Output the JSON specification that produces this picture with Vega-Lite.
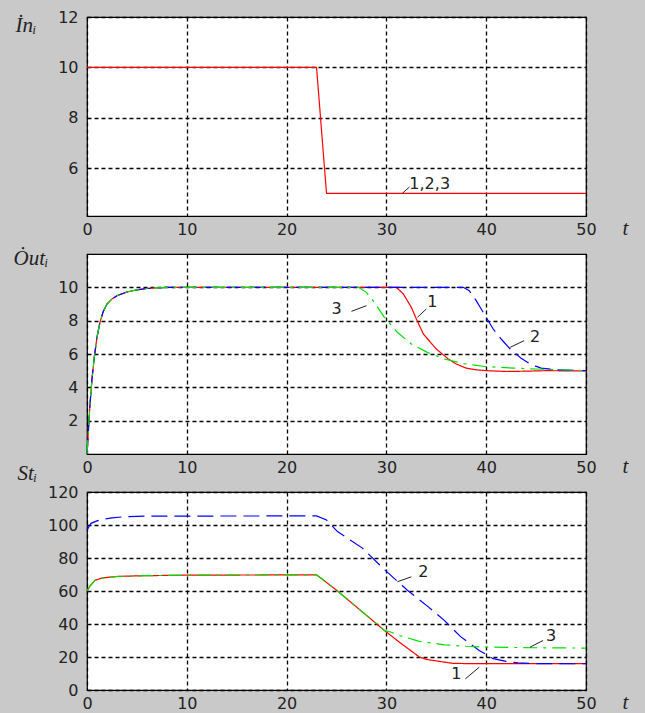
{
  "$schema": "https://vega.github.io/schema/vega-lite/v6.json",
  "background": "#c9c9c9",
  "padding": {"left": 12, "top": 8, "right": 20, "bottom": 0},
  "spacing": 38,
  "bounds": "flush",
  "config": {
    "view": {"fill": "white", "stroke": "black", "strokeWidth": 1.2},
    "axis": {
      "grid": true, "gridColor": "black", "gridDash": [4, 3], "gridWidth": 1.3, "gridOpacity": 1,
      "ticks": false, "domain": false, "labelOverlap": false,
      "labelFont": "DejaVu Sans", "labelFontSize": 16, "labelColor": "#222222",
      "titleFont": "Liberation Serif", "titleFontStyle": "italic", "titleFontWeight": "normal", "titleFontSize": 21, "titleColor": "#222222",
      "titleAngle": 0
    },
    "axisX": {"labelPadding": 5, "titleX": 538, "titleY": 12, "titleAlign": "center", "titleBaseline": "middle", "labelFlush": false},
    "axisY": {"labelPadding": 9, "titleAlign": "left", "titleBaseline": "alphabetic", "labelFlush": false},
    "text": {"font": "DejaVu Sans", "fontSize": 16, "color": "#222222"},
    "rule": {"color": "#222222", "strokeWidth": 1}
  },
  "datasets": {
    "inp": [
      {"t": 0, "v": 10}, {"t": 23, "v": 10}, {"t": 23.1, "v": 9.5}, {"t": 23.3, "v": 8.5},
      {"t": 23.5, "v": 7.5}, {"t": 23.7, "v": 6.5}, {"t": 23.9, "v": 5.5}, {"t": 24, "v": 5}, {"t": 50, "v": 5}
    ],
    "out": [
      {"s": "1", "t": 0, "v": 0}, {"s": "1", "t": 0.15, "v": 1.5}, {"s": "1", "t": 0.3, "v": 3}, {"s": "1", "t": 0.5, "v": 4.5},
      {"s": "1", "t": 0.75, "v": 5.9}, {"s": "1", "t": 1, "v": 7}, {"s": "1", "t": 1.3, "v": 7.9}, {"s": "1", "t": 1.6, "v": 8.5},
      {"s": "1", "t": 2, "v": 9}, {"s": "1", "t": 2.5, "v": 9.3}, {"s": "1", "t": 3, "v": 9.5}, {"s": "1", "t": 4, "v": 9.72},
      {"s": "1", "t": 5, "v": 9.85}, {"s": "1", "t": 6, "v": 9.93}, {"s": "1", "t": 7, "v": 9.97}, {"s": "1", "t": 8, "v": 10},
      {"s": "1", "t": 31, "v": 10}, {"s": "1", "t": 31.7, "v": 9.6}, {"s": "1", "t": 32.5, "v": 8.8}, {"s": "1", "t": 33, "v": 8.1},
      {"s": "1", "t": 33.7, "v": 7.2}, {"s": "1", "t": 35, "v": 6.3}, {"s": "1", "t": 36.2, "v": 5.7}, {"s": "1", "t": 37, "v": 5.4},
      {"s": "1", "t": 38, "v": 5.15}, {"s": "1", "t": 39, "v": 5.05}, {"s": "1", "t": 40, "v": 5.0}, {"s": "1", "t": 42, "v": 4.95},
      {"s": "1", "t": 44, "v": 4.97}, {"s": "1", "t": 46, "v": 5.0}, {"s": "1", "t": 50, "v": 4.98},
      {"s": "2", "t": 0, "v": 0}, {"s": "2", "t": 0.15, "v": 1.5}, {"s": "2", "t": 0.3, "v": 3}, {"s": "2", "t": 0.5, "v": 4.5},
      {"s": "2", "t": 0.75, "v": 5.9}, {"s": "2", "t": 1, "v": 7}, {"s": "2", "t": 1.3, "v": 7.9}, {"s": "2", "t": 1.6, "v": 8.5},
      {"s": "2", "t": 2, "v": 9}, {"s": "2", "t": 2.5, "v": 9.3}, {"s": "2", "t": 3, "v": 9.5}, {"s": "2", "t": 4, "v": 9.72},
      {"s": "2", "t": 5, "v": 9.85}, {"s": "2", "t": 6, "v": 9.93}, {"s": "2", "t": 7, "v": 9.97}, {"s": "2", "t": 8, "v": 10},
      {"s": "2", "t": 37.7, "v": 10}, {"s": "2", "t": 38.3, "v": 9.8}, {"s": "2", "t": 39, "v": 9.2}, {"s": "2", "t": 39.5, "v": 8.7},
      {"s": "2", "t": 40, "v": 8.2}, {"s": "2", "t": 40.7, "v": 7.5}, {"s": "2", "t": 41.5, "v": 6.9}, {"s": "2", "t": 42.4, "v": 6.3},
      {"s": "2", "t": 43.5, "v": 5.75}, {"s": "2", "t": 44.4, "v": 5.4}, {"s": "2", "t": 45.5, "v": 5.15}, {"s": "2", "t": 47, "v": 5.05},
      {"s": "2", "t": 50, "v": 5.0},
      {"s": "3", "t": 0, "v": 0}, {"s": "3", "t": 0.15, "v": 1.5}, {"s": "3", "t": 0.3, "v": 3}, {"s": "3", "t": 0.5, "v": 4.5},
      {"s": "3", "t": 0.75, "v": 5.9}, {"s": "3", "t": 1, "v": 7}, {"s": "3", "t": 1.3, "v": 7.9}, {"s": "3", "t": 1.6, "v": 8.5},
      {"s": "3", "t": 2, "v": 9}, {"s": "3", "t": 2.5, "v": 9.3}, {"s": "3", "t": 3, "v": 9.5}, {"s": "3", "t": 4, "v": 9.72},
      {"s": "3", "t": 5, "v": 9.85}, {"s": "3", "t": 6, "v": 9.93}, {"s": "3", "t": 7, "v": 9.97}, {"s": "3", "t": 8, "v": 10},
      {"s": "3", "t": 27.2, "v": 10}, {"s": "3", "t": 28, "v": 9.7}, {"s": "3", "t": 28.8, "v": 9.1}, {"s": "3", "t": 29.8, "v": 8.2},
      {"s": "3", "t": 31.1, "v": 7.3}, {"s": "3", "t": 32.5, "v": 6.6}, {"s": "3", "t": 34.1, "v": 6.1}, {"s": "3", "t": 35.8, "v": 5.7},
      {"s": "3", "t": 37.9, "v": 5.4}, {"s": "3", "t": 39.9, "v": 5.25}, {"s": "3", "t": 42.8, "v": 5.15}, {"s": "3", "t": 45, "v": 5.1},
      {"s": "3", "t": 50, "v": 5.0}
    ],
    "st": [
      {"s": "1", "t": 0, "v": 60}, {"s": "1", "t": 0.3, "v": 63}, {"s": "1", "t": 0.8, "v": 66.5}, {"s": "1", "t": 1.5, "v": 67.8},
      {"s": "1", "t": 2.1, "v": 68.3}, {"s": "1", "t": 3, "v": 68.8}, {"s": "1", "t": 4, "v": 69}, {"s": "1", "t": 6, "v": 69.3},
      {"s": "1", "t": 10, "v": 69.6}, {"s": "1", "t": 23, "v": 69.8}, {"s": "1", "t": 25, "v": 60.5}, {"s": "1", "t": 27.6, "v": 47.3},
      {"s": "1", "t": 29.8, "v": 36.1}, {"s": "1", "t": 31.3, "v": 29}, {"s": "1", "t": 33.3, "v": 20}, {"s": "1", "t": 34, "v": 18.6},
      {"s": "1", "t": 35, "v": 17.6}, {"s": "1", "t": 36.6, "v": 16.2}, {"s": "1", "t": 38, "v": 16}, {"s": "1", "t": 50, "v": 16},
      {"s": "2", "t": 0, "v": 97}, {"s": "2", "t": 0.4, "v": 101}, {"s": "2", "t": 1, "v": 102.5}, {"s": "2", "t": 1.6, "v": 103.5},
      {"s": "2", "t": 2.5, "v": 104.3}, {"s": "2", "t": 3.7, "v": 105}, {"s": "2", "t": 6, "v": 105.4}, {"s": "2", "t": 23, "v": 105.5},
      {"s": "2", "t": 24, "v": 103}, {"s": "2", "t": 25.1, "v": 96}, {"s": "2", "t": 27.6, "v": 86}, {"s": "2", "t": 29.8, "v": 73},
      {"s": "2", "t": 32.1, "v": 60.5}, {"s": "2", "t": 34.2, "v": 50.4}, {"s": "2", "t": 35.8, "v": 42.2}, {"s": "2", "t": 37.4, "v": 32.5},
      {"s": "2", "t": 39.3, "v": 24}, {"s": "2", "t": 40.7, "v": 19}, {"s": "2", "t": 42, "v": 17.3}, {"s": "2", "t": 43.2, "v": 16.4},
      {"s": "2", "t": 45, "v": 16}, {"s": "2", "t": 50, "v": 15.9},
      {"s": "3", "t": 0, "v": 60}, {"s": "3", "t": 0.3, "v": 63}, {"s": "3", "t": 0.8, "v": 66.5}, {"s": "3", "t": 1.5, "v": 67.8},
      {"s": "3", "t": 2.1, "v": 68.3}, {"s": "3", "t": 3, "v": 68.8}, {"s": "3", "t": 4, "v": 69}, {"s": "3", "t": 6, "v": 69.3},
      {"s": "3", "t": 10, "v": 69.6}, {"s": "3", "t": 23, "v": 69.8}, {"s": "3", "t": 25, "v": 60.5}, {"s": "3", "t": 27.6, "v": 47.3},
      {"s": "3", "t": 29.8, "v": 36.1}, {"s": "3", "t": 30.5, "v": 35}, {"s": "3", "t": 31.3, "v": 33}, {"s": "3", "t": 33.3, "v": 29.5},
      {"s": "3", "t": 35.8, "v": 27.4}, {"s": "3", "t": 38, "v": 26.5}, {"s": "3", "t": 39.9, "v": 26}, {"s": "3", "t": 45, "v": 25.6},
      {"s": "3", "t": 50, "v": 25.4}
    ],
    "lab1": [{"t": 32.3, "v": 5.37, "txt": "1,2,3"}],
    "lead1": [{"t": 31.6, "v": 5.0, "t2": 32.3, "v2": 5.25}],
    "lab2": [
      {"t": 25.0, "v": 8.7, "txt": "3"}, {"t": 34.6, "v": 9.1, "txt": "1"}, {"t": 44.9, "v": 7.0, "txt": "2"}
    ],
    "lead2": [
      {"t": 26.5, "v": 8.56, "t2": 28.0, "v2": 8.9},
      {"t": 33.1, "v": 8.2, "t2": 34.0, "v2": 8.7},
      {"t": 42.4, "v": 6.4, "t2": 43.8, "v2": 6.8}
    ],
    "lab3": [
      {"t": 33.7, "v": 71.7, "txt": "2"}, {"t": 46.5, "v": 32.5, "txt": "3"}, {"t": 37.0, "v": 9.7, "txt": "1"}
    ],
    "lead3": [
      {"t": 31.1, "v": 65.6, "t2": 32.5, "v2": 68.6},
      {"t": 44.4, "v": 26, "t2": 45.7, "v2": 30},
      {"t": 37.9, "v": 6.7, "t2": 39.3, "v2": 13.8}
    ]
  },
  "vconcat": [
    {
      "width": 499, "height": 199,
      "layer": [
        {
          "data": {"name": "inp"},
          "mark": {"type": "line", "color": "#ff0000", "strokeWidth": 1.2},
          "encoding": {
            "x": {"field": "t", "type": "quantitative", "scale": {"domain": [0, 50], "nice": false}, "axis": {"values": [0, 10, 20, 30, 40, 50], "format": "d", "title": "t"}},
            "y": {"field": "v", "type": "quantitative", "scale": {"domain": [4.1, 12], "nice": false, "zero": false}, "axis": {"values": [6, 8, 10, 12], "format": "d", "title": "İnᵢ", "titleX": -72, "titleY": 14}}
          }
        },
        {
          "data": {"name": "lead1"},
          "mark": {"type": "rule"},
          "encoding": {"x": {"field": "t", "type": "quantitative"}, "y": {"field": "v", "type": "quantitative"}, "x2": {"field": "t2"}, "y2": {"field": "v2"}}
        },
        {
          "data": {"name": "lab1"},
          "mark": {"type": "text", "align": "left", "baseline": "middle"},
          "encoding": {"x": {"field": "t", "type": "quantitative"}, "y": {"field": "v", "type": "quantitative"}, "text": {"field": "txt"}}
        }
      ]
    },
    {
      "width": 499, "height": 200,
      "layer": [
        {
          "data": {"name": "out"},
          "mark": {"type": "line", "strokeWidth": 1.2},
          "encoding": {
            "x": {"field": "t", "type": "quantitative", "scale": {"domain": [0, 50], "nice": false}, "axis": {"values": [0, 10, 20, 30, 40, 50], "format": "d", "title": "t"}},
            "y": {"field": "v", "type": "quantitative", "scale": {"domain": [0, 12], "nice": false}, "axis": {"values": [2, 4, 6, 8, 10], "format": "d", "title": "Ȯutᵢ", "titleX": -74, "titleY": 10}},
            "color": {"field": "s", "type": "nominal", "scale": {"domain": ["1", "2", "3"], "range": ["#ff0000", "#0000ff", "#00e000"]}, "legend": null},
            "strokeDash": {"field": "s", "type": "nominal", "scale": {"domain": ["1", "2", "3"], "range": [[1, 0], [16, 7], [14, 6, 3, 6]]}, "legend": null}
          }
        },
        {
          "data": {"name": "lead2"},
          "mark": {"type": "rule"},
          "encoding": {"x": {"field": "t", "type": "quantitative"}, "y": {"field": "v", "type": "quantitative"}, "x2": {"field": "t2"}, "y2": {"field": "v2"}}
        },
        {
          "data": {"name": "lab2"},
          "mark": {"type": "text", "align": "center", "baseline": "middle"},
          "encoding": {"x": {"field": "t", "type": "quantitative"}, "y": {"field": "v", "type": "quantitative"}, "text": {"field": "txt"}}
        }
      ]
    },
    {
      "width": 499, "height": 198,
      "layer": [
        {
          "data": {"name": "st"},
          "mark": {"type": "line", "strokeWidth": 1.2},
          "encoding": {
            "x": {"field": "t", "type": "quantitative", "scale": {"domain": [0, 50], "nice": false}, "axis": {"values": [0, 10, 20, 30, 40, 50], "format": "d", "title": "t"}},
            "y": {"field": "v", "type": "quantitative", "scale": {"domain": [0, 120], "nice": false}, "axis": {"values": [0, 20, 40, 60, 80, 100, 120], "format": "d", "tickCount": 12, "title": "Stᵢ", "titleX": -70, "titleY": -13}},
            "color": {"field": "s", "type": "nominal", "scale": {"domain": ["1", "2", "3"], "range": ["#ff0000", "#0000ff", "#00e000"]}, "legend": null},
            "strokeDash": {"field": "s", "type": "nominal", "scale": {"domain": ["1", "2", "3"], "range": [[1, 0], [26, 11], [14, 7, 3, 7]]}, "legend": null}
          }
        },
        {
          "data": {"name": "lead3"},
          "mark": {"type": "rule"},
          "encoding": {"x": {"field": "t", "type": "quantitative"}, "y": {"field": "v", "type": "quantitative"}, "x2": {"field": "t2"}, "y2": {"field": "v2"}}
        },
        {
          "data": {"name": "lab3"},
          "mark": {"type": "text", "align": "center", "baseline": "middle"},
          "encoding": {"x": {"field": "t", "type": "quantitative"}, "y": {"field": "v", "type": "quantitative"}, "text": {"field": "txt"}}
        }
      ]
    }
  ]
}
